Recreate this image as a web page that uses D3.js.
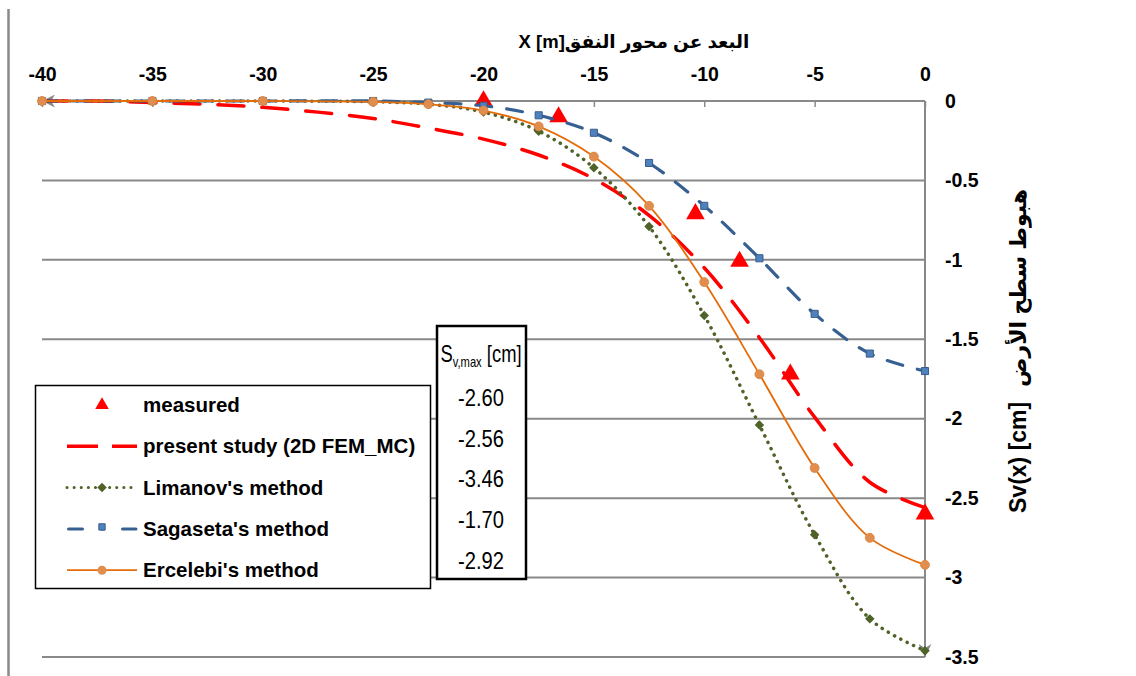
<!DOCTYPE html>
<html>
<head>
<meta charset="utf-8">
<script src="https://cdn.jsdelivr.net/npm/d3@7"></script>
<style>
  body { margin: 0; background: #fff; }
  svg { display: block; }
</style>
</head>
<body>
<svg id="chart" width="1136" height="676"></svg>
<script>
  // distances from tunnel axis [m], settlement values [cm]
  var xMethods = [-40, -35, -30, -25, -22.5, -20, -17.5, -15, -12.5, -10, -7.5, -5, -2.5, 0];
  var limanov = [0, 0, 0, -0.005, -0.02, -0.07, -0.19, -0.42, -0.79, -1.35, -2.04, -2.73, -3.26, -3.46];
  var sagaseta = [0, 0, 0, 0, -0.01, -0.03, -0.09, -0.20, -0.39, -0.66, -0.99, -1.34, -1.59, -1.70];
  var ercelebi = [0, 0, 0, -0.005, -0.02, -0.06, -0.16, -0.35, -0.66, -1.14, -1.72, -2.31, -2.75, -2.92];

  var xStudy = [-40, -37.5, -35, -32.5, -30, -27.5, -25, -22.5, -20, -17.5, -15, -12.5, -10, -7.5, -5, -2.5, 0];
  var presentStudy = [0, 0, -0.01, -0.02, -0.04, -0.07, -0.11, -0.17, -0.24, -0.34, -0.49, -0.72, -1.05, -1.49, -1.99, -2.40, -2.56];

  var xMeasured = [-20, -16.6, -10.4, -8.4, -6.1, 0];
  var measured = [0, -0.10, -0.71, -1.01, -1.72, -2.60];

  var xTicks = [-40, -35, -30, -25, -20, -15, -10, -5, 0];
  var yTicks = [0, -0.5, -1, -1.5, -2, -2.5, -3, -3.5];

  var legendLabels = ["measured", "present study (2D FEM_MC)", "Limanov's method", "Sagaseta's method", "Ercelebi's method"];
  var maxLabels = ["-2.60", "-2.56", "-3.46", "-1.70", "-2.92"];

  var svg = d3.select("#chart");
  var grey = "#898989";
  var boldFont = "'Liberation Sans', Arial, 'DejaVu Sans', sans-serif";

  var x = d3.scaleLinear().domain([-40, 0]).range([42, 925]);
  var y = d3.scaleLinear().domain([-3.5, 0]).range([657, 101]);

  svg.append("marker")
    .attr("id", "axisArrow")
    .attr("viewBox", "0 0 10 10")
    .attr("refX", "10")
    .attr("refY", "5")
    .attr("markerUnits", "userSpaceOnUse")
    .attr("markerWidth", "15")
    .attr("markerHeight", "13")
    .attr("orient", "auto")
    .append("path")
    .attr("d", "M 0 0 L 10 5 L 0 10 L 3 5 z")
    .attr("fill", grey);

  // frame line on the left
  svg.append("line")
    .attr("x1", 8.5).attr("x2", 8.5)
    .attr("y1", 9).attr("y2", 676)
    .attr("stroke", grey)
    .attr("stroke-width", 2.5);

  // horizontal gridlines
  svg.append("g")
    .selectAll("line")
    .data(yTicks.slice(1))
    .join("line")
    .attr("x1", x(-40)).attr("x2", x(0))
    .attr("y1", function (d) { return y(d); })
    .attr("y2", function (d) { return y(d); })
    .attr("stroke", grey)
    .attr("stroke-width", 2);

  // top axis: ticks point down, labels above
  var xAxis = svg.append("g")
    .attr("transform", "translate(0," + y(0) + ")")
    .call(d3.axisTop(x).tickValues(xTicks).tickSizeInner(-6).tickSizeOuter(0).tickPadding(20)
      .tickFormat(function (d) { return String(d); }));
  xAxis.select(".domain").remove();
  xAxis.selectAll(".tick line").attr("stroke", grey).attr("stroke-width", 1.5);
  xAxis.selectAll(".tick text")
    .attr("fill", "#000")
    .attr("font-family", boldFont)
    .attr("font-weight", "bold")
    .attr("font-size", "19.5px");

  var yAxis = svg.append("g")
    .attr("transform", "translate(" + x(0) + ",0)")
    .call(d3.axisRight(y).tickValues(yTicks).tickSize(0).tickPadding(20)
      .tickFormat(function (d) { return String(d); }));
  yAxis.select(".domain").remove();
  yAxis.selectAll(".tick text")
    .attr("fill", "#000")
    .attr("font-family", boldFont)
    .attr("font-weight", "bold")
    .attr("font-size", "19.5px");

  svg.append("line")
    .attr("x1", x(0)).attr("x2", x(-40))
    .attr("y1", y(0)).attr("y2", y(0))
    .attr("stroke", grey).attr("stroke-width", 2)
    .attr("marker-end", "url(#axisArrow)");
  svg.append("line")
    .attr("x1", x(0)).attr("x2", x(0))
    .attr("y1", y(0)).attr("y2", y(-3.5))
    .attr("stroke", grey).attr("stroke-width", 2)
    .attr("marker-end", "url(#axisArrow)");

  // axis titles
  svg.append("text")
    .attr("x", 634).attr("y", 48)
    .attr("text-anchor", "middle")
    .attr("font-family", boldFont)
    .attr("font-weight", "bold")
    .attr("font-size", "18.5px")
    .text("X [m]البعد عن محور النفق");

  var yTitle = svg.append("g").attr("transform", "translate(1026,0) rotate(-90)");
  yTitle.append("text")
    .attr("x", -513).attr("y", 0)
    .attr("font-family", boldFont)
    .attr("font-weight", "bold")
    .attr("font-size", "23px")
    .text("Sv(x) [cm]");
  yTitle.append("text")
    .attr("x", -288).attr("y", 0)
    .attr("text-anchor", "middle")
    .attr("font-family", boldFont)
    .attr("font-weight", "bold")
    .attr("font-size", "22px")
    .text("هبوط سطح الأرض");

  var smooth = d3.line()
    .x(function (d) { return x(d[0]); })
    .y(function (d) { return y(d[1]); })
    .curve(d3.curveCatmullRom.alpha(0.5));

  var triangle = d3.symbol().type(d3.symbolTriangle);
  var square = d3.symbol().type(d3.symbolSquare);

  function pairs(xs, ys) {
    return xs.map(function (v, i) { return [v, ys[i]]; });
  }

  var plot = svg.append("g");

  // measured
  plot.selectAll(".measured")
    .data(pairs(xMeasured, measured))
    .join("path")
    .attr("class", "measured")
    .attr("d", triangle.size(150)())
    .attr("transform", function (d) { return "translate(" + x(d[0]) + "," + y(d[1]) + ")"; })
    .attr("fill", "#ff0000");

  // present study
  plot.append("path")
    .datum(pairs(xStudy, presentStudy))
    .attr("d", smooth)
    .attr("fill", "none")
    .attr("stroke", "#ff0000")
    .attr("stroke-width", 3.5)
    .attr("stroke-linecap", "round")
    .attr("stroke-dasharray", "26,18");

  // Limanov
  plot.append("path")
    .datum(pairs(xMethods, limanov))
    .attr("d", smooth)
    .attr("fill", "none")
    .attr("stroke", "#4f6228")
    .attr("stroke-width", 3.5)
    .attr("stroke-linecap", "round")
    .attr("stroke-dasharray", "0.1,7");
  plot.selectAll(".limanov")
    .data(pairs(xMethods, limanov))
    .join("path")
    .attr("class", "limanov")
    .attr("d", square.size(45)())
    .attr("transform", function (d) { return "translate(" + x(d[0]) + "," + y(d[1]) + ") rotate(45)"; })
    .attr("fill", "#4f6228");

  // Sagaseta
  plot.append("path")
    .datum(pairs(xMethods, sagaseta))
    .attr("d", smooth)
    .attr("fill", "none")
    .attr("stroke", "#376092")
    .attr("stroke-width", 3.2)
    .attr("stroke-linecap", "round")
    .attr("stroke-dasharray", "16,15");
  plot.selectAll(".sagaseta")
    .data(pairs(xMethods, sagaseta))
    .join("path")
    .attr("class", "sagaseta")
    .attr("d", square.size(50)())
    .attr("transform", function (d) { return "translate(" + x(d[0]) + "," + y(d[1]) + ")"; })
    .attr("fill", "#4f81bd")
    .attr("stroke", "#385d8a")
    .attr("stroke-width", 1);

  // Ercelebi
  plot.append("path")
    .datum(pairs(xMethods, ercelebi))
    .attr("d", smooth)
    .attr("fill", "none")
    .attr("stroke", "#e46c0a")
    .attr("stroke-width", 1.8);
  plot.selectAll(".ercelebi")
    .data(pairs(xMethods, ercelebi))
    .join("circle")
    .attr("class", "ercelebi")
    .attr("cx", function (d) { return x(d[0]); })
    .attr("cy", function (d) { return y(d[1]); })
    .attr("r", 4.5)
    .attr("fill", "#e08d4d")
    .attr("stroke", "#d9843f")
    .attr("stroke-width", 0.8);

  // legend
  var legend = svg.append("g");
  legend.append("rect")
    .attr("x", 35.5).attr("y", 385.5)
    .attr("width", 395).attr("height", 203)
    .attr("fill", "#fff")
    .attr("stroke", "#000")
    .attr("stroke-width", 1.5);

  var rowY = function (i) { return 405 + i * 41.3; };

  legend.selectAll("text")
    .data(legendLabels)
    .join("text")
    .attr("x", 143)
    .attr("y", function (d, i) { return rowY(i) + 7; })
    .attr("font-family", boldFont)
    .attr("font-weight", "bold")
    .attr("font-size", "20.5px")
    .text(function (d) { return d; });

  legend.append("path")
    .attr("d", triangle.size(80)())
    .attr("transform", "translate(102," + rowY(0) + ")")
    .attr("fill", "#ff0000");

  legend.append("line")
    .attr("x1", 67).attr("x2", 137)
    .attr("y1", rowY(1)).attr("y2", rowY(1))
    .attr("stroke", "#ff0000").attr("stroke-width", 3.5)
    .attr("stroke-dasharray", "31,14");

  legend.append("line")
    .attr("x1", 67).attr("x2", 137)
    .attr("y1", rowY(2)).attr("y2", rowY(2))
    .attr("stroke", "#4f6228").attr("stroke-width", 3)
    .attr("stroke-linecap", "round")
    .attr("stroke-dasharray", "0.1,7");
  legend.append("path")
    .attr("d", square.size(45)())
    .attr("transform", "translate(102," + rowY(2) + ") rotate(45)")
    .attr("fill", "#4f6228");

  legend.append("line")
    .attr("x1", 68.5).attr("x2", 136)
    .attr("y1", rowY(3)).attr("y2", rowY(3))
    .attr("stroke", "#376092").attr("stroke-width", 3)
    .attr("stroke-linecap", "round")
    .attr("stroke-dasharray", "14,19,2,19,14");
  legend.append("path")
    .attr("d", square.size(40)())
    .attr("transform", "translate(102," + (rowY(3) - 2) + ")")
    .attr("fill", "#4f81bd")
    .attr("stroke", "#385d8a");

  legend.append("line")
    .attr("x1", 67).attr("x2", 137)
    .attr("y1", rowY(4)).attr("y2", rowY(4))
    .attr("stroke", "#e46c0a").attr("stroke-width", 1.8);
  legend.append("circle")
    .attr("cx", 102).attr("cy", rowY(4)).attr("r", 4.5)
    .attr("fill", "#e08d4d");

  // S_v,max box, narrow lettering by horizontal scaling
  var maxBox = svg.append("g");
  maxBox.append("rect")
    .attr("x", 437).attr("y", 326)
    .attr("width", 89).attr("height", 253)
    .attr("fill", "#fff")
    .attr("stroke", "#000")
    .attr("stroke-width", 2.5);

  var header = maxBox.append("text")
    .attr("transform", "translate(481,362) scale(0.8,1)")
    .attr("text-anchor", "middle")
    .attr("font-family", boldFont)
    .attr("font-size", "23px");
  header.append("tspan").text("S");
  header.append("tspan").attr("font-size", "14px").attr("dy", 5).text("v,max");
  header.append("tspan").attr("dy", -5).text(" [cm]");

  maxBox.selectAll(".maxval")
    .data(maxLabels)
    .join("text")
    .attr("class", "maxval")
    .attr("transform", function (d, i) { return "translate(481," + (398 + i * 40.7 + 8) + ") scale(0.84,1)"; })
    .attr("text-anchor", "middle")
    .attr("font-family", boldFont)
    .attr("font-size", "24px")
    .text(function (d) { return d; });
</script>
</body>
</html>
